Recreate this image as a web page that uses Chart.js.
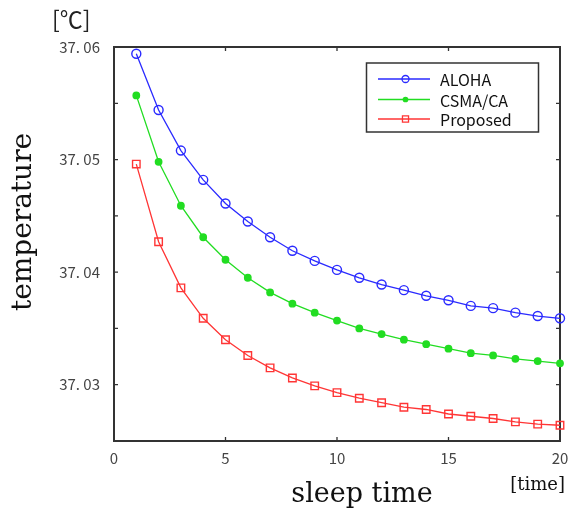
<!DOCTYPE html>
<html>
<head>
<meta charset="utf-8">
<script src="https://cdn.jsdelivr.net/npm/chart.js@4.4.1/dist/chart.umd.min.js"></script>
<style>
  html, body { margin: 0; padding: 0; background: #fff; }
</style>
</head>
<body>
<canvas id="chart" width="569" height="513"></canvas>
<script>
// values
const sleepTime = [1, 2, 3, 4, 5, 6, 7, 8, 9, 10, 11, 12, 13, 14, 15, 16, 17, 18, 19, 20]
const aloha = [37.0594, 37.0544, 37.0508, 37.0482, 37.0461, 37.0445, 37.0431, 37.0419, 37.0410, 37.0402,
  37.0395, 37.0389, 37.0384, 37.0379, 37.0375, 37.0370, 37.0368, 37.0364, 37.0361, 37.0359]
const csma = [37.0557, 37.0498, 37.0459, 37.0431, 37.0411, 37.0395, 37.0382, 37.0372, 37.0364, 37.0357,
  37.0350, 37.0345, 37.0340, 37.0336, 37.0332, 37.0328, 37.0326, 37.0323, 37.0321, 37.0319]
const proposed = [37.0496, 37.0427, 37.0386, 37.0359, 37.0340, 37.0326, 37.0315, 37.0306, 37.0299, 37.0293,
  37.0288, 37.0284, 37.0280, 37.0278, 37.0274, 37.0272, 37.0270, 37.0267, 37.0265, 37.0264]

const yTicks = [37.03, 37.04, 37.05, 37.06]
const yMinorTicks = [37.035, 37.045, 37.055]
const xTicks = [0, 5, 10, 15, 20]

const tickFont = { family: '"Noto Sans CJK JP", "DejaVu Sans", sans-serif', size: 15 }
const serif = '"DejaVu Serif", "Liberation Serif", serif'

const makeSet = (label, values, color, style, radius, filled) => ({
  label: label,
  data: sleepTime.map((x, i) => ({ x: x, y: values[i] })),
  borderColor: color,
  borderWidth: 1.3,
  pointStyle: style,
  pointRadius: radius,
  pointBorderWidth: 1.4,
  pointBorderColor: color,
  pointBackgroundColor: filled ? color : 'rgba(0,0,0,0)',
  tension: 0,
  clip: false
})

// frame + inward ticks on all four sides
const framePlugin = {
  id: 'frame',
  beforeDatasetsDraw(chart) {
    const { ctx, chartArea: a, scales } = chart
    ctx.save()
    ctx.strokeStyle = '#333'
    ctx.lineWidth = 1.3
    ctx.beginPath()
    yTicks.concat(yMinorTicks).forEach(v => {
      const y = scales.y.getPixelForValue(v)
      ctx.moveTo(a.left, y); ctx.lineTo(a.left + 4, y)
      ctx.moveTo(a.right, y); ctx.lineTo(a.right - 4, y)
    })
    xTicks.forEach(v => {
      const x = scales.x.getPixelForValue(v)
      ctx.moveTo(x, a.bottom); ctx.lineTo(x, a.bottom - 4)
      ctx.moveTo(x, a.top); ctx.lineTo(x, a.top + 4)
    })
    ctx.stroke()
    ctx.lineWidth = 2
    ctx.strokeRect(a.left, a.top, a.right - a.left, a.bottom - a.top)
    ctx.restore()
  }
}

// titles and the legend box
const textPlugin = {
  id: 'texts',
  afterDraw(chart) {
    const ctx = chart.ctx
    ctx.save()
    ctx.fillStyle = '#222'
    ctx.font = '23px ' + tickFont.family
    ctx.textAlign = 'left'
    ctx.textBaseline = 'alphabetic'
    ctx.fillText('[℃]', 52, 28)

    ctx.fillStyle = '#111'
    ctx.font = '27px ' + serif
    ctx.textAlign = 'center'
    ctx.fillText('sleep time', 362, 502)

    ctx.font = '18px ' + serif
    ctx.textAlign = 'right'
    ctx.fillText('[time]', 565, 490)

    ctx.save()
    ctx.translate(31, 222)
    ctx.rotate(-Math.PI / 2)
    ctx.font = '28px ' + serif
    ctx.textAlign = 'center'
    ctx.fillText('temperature', 0, 0)
    ctx.restore()

    // legend
    ctx.strokeStyle = '#333'
    ctx.lineWidth = 1.5
    ctx.strokeRect(366.5, 63, 172, 69)
    const rows = [79, 99.5, 119]
    ctx.font = '16px ' + tickFont.family
    ctx.textAlign = 'left'
    ctx.textBaseline = 'middle'
    chart.data.datasets.forEach((ds, i) => {
      const y = rows[i]
      ctx.strokeStyle = ds.borderColor
      ctx.lineWidth = ds.borderWidth
      ctx.beginPath()
      ctx.moveTo(378, y); ctx.lineTo(430, y)
      ctx.stroke()
      ctx.fillStyle = ds.pointBackgroundColor
      Chart.helpers.drawPoint(ctx, {
        pointStyle: ds.pointStyle, radius: ds.pointRadius - 1, borderWidth: ds.pointBorderWidth, rotation: 0
      }, 405.5, y)
      ctx.fillStyle = '#111'
      ctx.fillText(ds.label, 440, y + 1)
    })
    ctx.restore()
  }
}

new Chart(document.getElementById('chart').getContext('2d'), {
  type: 'line',
  data: {
    datasets: [
      makeSet('ALOHA', aloha, '#2a2aff', 'circle', 4.5, false),
      makeSet('CSMA/CA', csma, '#22dd22', 'circle', 3.2, true),
      makeSet('Proposed', proposed, '#ff3535', 'rect', 5.3, false)
    ]
  },
  options: {
    responsive: false,
    animation: false,
    layout: { padding: { top: 47, right: 9, left: 0, bottom: 0 } },
    plugins: {
      legend: { display: false },
      title: { display: false },
      tooltip: { enabled: false }
    },
    scales: {
      x: {
        type: 'linear',
        min: 0,
        max: 20,
        grid: { display: false, drawTicks: false },
        border: { display: false },
        afterBuildTicks: scale => { scale.ticks = xTicks.map(v => ({ value: v })) },
        afterFit: scale => {
          scale.height = 72
          scale.paddingLeft = 0
          scale.paddingRight = 0
        },
        ticks: { color: '#444', font: tickFont, padding: 8, maxRotation: 0 }
      },
      y: {
        type: 'linear',
        min: 37.025,
        max: 37.06,
        grid: { display: false, drawTicks: false },
        border: { display: false },
        afterBuildTicks: scale => { scale.ticks = yTicks.map(v => ({ value: v })) },
        afterFit: scale => {
          scale.width = 114
          scale.paddingTop = 0
          scale.paddingBottom = 0
        },
        ticks: {
          color: '#444',
          font: tickFont,
          padding: 14,
          callback: v => v.toFixed(2).replace('.', '. ')
        }
      }
    }
  },
  plugins: [framePlugin, textPlugin]
})
</script>
</body>
</html>
